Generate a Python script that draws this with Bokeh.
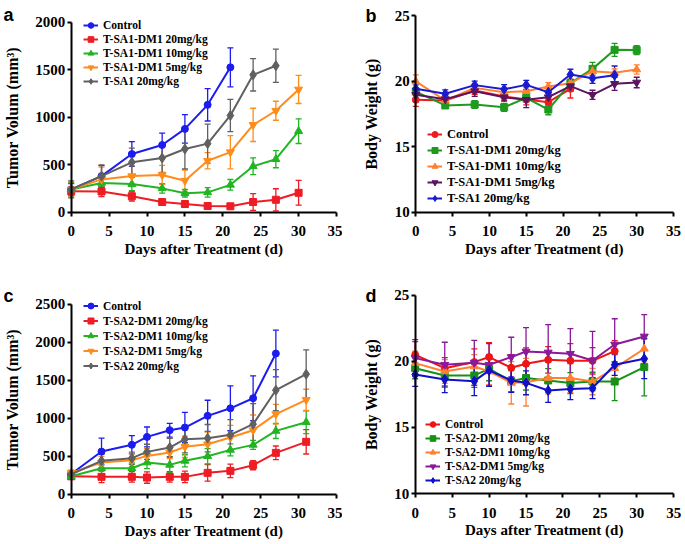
from bokeh.plotting import figure
from bokeh.models import (ColumnDataSource, Whisker, TeeHead, Legend, LegendItem,
                          Range1d, FixedTicker, Label, LinearAxis)
from bokeh.layouts import column, row
from bokeh.embed import file_html
from bokeh.resources import INLINE

# ---------------- data ----------------
days_a = [0, 4, 8, 12, 15, 18, 21, 24, 27, 30]
a_names = ["Control", "T-SA1-DM1 20mg/kg", "T-SA1-DM1 10mg/kg", "T-SA1-DM1 5mg/kg", "T-SA1 20mg/kg"]
a_control = [240, 380, 612, 707, 877, 1130, 1525]
a_control_err = [60, 110, 130, 125, 150, 170, 205]
a_dm1_20 = [220, 218, 168, 107, 86, 65, 62, 107, 131, 204]
a_dm1_20_err = [40, 55, 50, 22, 28, 20, 25, 88, 116, 130]
a_dm1_10 = [240, 308, 296, 251, 200, 209, 288, 484, 558, 853]
a_dm1_10_err = [70, 40, 70, 50, 40, 50, 56, 88, 90, 130]
a_dm1_5 = [240, 345, 380, 392, 332, 542, 632, 919, 1068, 1292]
a_dm1_5_err = [80, 130, 110, 100, 110, 85, 175, 175, 100, 148]
a_sa1 = [240, 379, 525, 570, 665, 722, 1018, 1446, 1542]
a_sa1_err = [90, 120, 150, 150, 210, 205, 170, 170, 175]

days_b = [0, 4, 8, 12, 15, 18, 21, 24, 27, 30]
b_names = ["Control", "T-SA1-DM1 20mg/kg", "T-SA1-DM1 10mg/kg", "T-SA1-DM1 5mg/kg", "T-SA1 20mg/kg"]
b_control = [18.57, 18.52, 19.28, 18.82, 18.59, 18.39, 19.41]
b_control_err = [0.5, 0.3, 0.3, 0.3, 0.4, 0.3, 0.7]
b_dm1_20 = [19.2, 18.14, 18.21, 18.0, 18.72, 17.83, 19.84, 20.93, 22.38, 22.36]
b_dm1_20_err = [0.3, 0.2, 0.3, 0.3, 0.3, 0.4, 0.3, 0.5, 0.5, 0.35]
b_dm1_10 = [19.97, 18.52, 19.48, 19.15, 19.23, 19.58, 19.84, 20.75, 20.63, 20.88]
b_dm1_10_err = [0.5, 0.3, 0.3, 0.3, 0.3, 0.3, 0.3, 0.3, 0.3, 0.35]
b_dm1_5 = [18.95, 18.62, 19.23, 18.77, 18.57, 18.77, 19.61, 18.95, 19.79, 19.89]
b_dm1_5_err = [0.3, 0.3, 0.4, 0.3, 0.6, 0.3, 0.4, 0.35, 0.5, 0.4]
b_sa1 = [19.41, 19.03, 19.69, 19.38, 19.71, 19.15, 20.5, 20.22, 20.45]
b_sa1_err = [0.3, 0.3, 0.3, 0.35, 0.35, 0.35, 0.4, 0.4, 0.7]

days_c = [0, 4, 8, 10, 13, 15, 18, 21, 24, 27, 31]
c_names = ["Control", "T-SA2-DM1 20mg/kg", "T-SA2-DM1 10mg/kg", "T-SA2-DM1 5mg/kg", "T-SA2 20mg/kg"]
c_control = [265, 561, 650, 754, 842, 877, 1031, 1130, 1263, 1851]
c_control_err = [40, 176, 120, 130, 90, 200, 205, 295, 295, 307]
c_dm1_20 = [235, 228, 228, 219, 228, 228, 281, 307, 382, 544, 689]
c_dm1_20_err = [30, 75, 70, 75, 70, 75, 110, 90, 60, 90, 160]
c_dm1_10 = [235, 342, 342, 417, 386, 439, 500, 583, 649, 833, 947]
c_dm1_10_err = [40, 100, 70, 80, 100, 80, 100, 80, 60, 100, 150]
c_dm1_5 = [280, 417, 447, 504, 548, 623, 658, 746, 842, 1053, 1241]
c_dm1_5_err = [40, 80, 80, 100, 80, 140, 160, 160, 200, 130, 140]
c_sa2 = [263, 439, 474, 557, 614, 724, 737, 781, 921, 1368, 1579]
c_sa2_err = [40, 90, 80, 100, 120, 180, 180, 200, 270, 270, 320]

days_d = [0, 4, 8, 10, 13, 15, 18, 21, 24, 27, 31]
d_names = ["Control", "T-SA2-DM1 20mg/kg", "T-SA2-DM1 10mg/kg", "T-SA2-DM1 5mg/kg", "T-SA2 20mg/kg"]
d_control = [20.49, 19.48, 19.94, 20.32, 19.51, 19.81, 20.11, 20.04, 20.04, 20.77]
d_control_err = [1.0, 0.8, 1.0, 1.1, 1.0, 1.2, 1.0, 1.3, 1.0, 0.8]
d_dm1_20 = [19.48, 18.93, 18.93, 19.43, 18.5, 18.73, 18.55, 18.35, 18.47, 18.47, 19.56]
d_dm1_20_err = [0.8, 0.8, 0.9, 0.9, 0.8, 0.9, 0.9, 0.8, 0.7, 1.45, 2.17]
d_dm1_10 = [19.86, 19.23, 19.61, 19.23, 18.37, 18.42, 18.73, 18.73, 18.47, 19.48, 20.95]
d_dm1_10_err = [0.9, 0.9, 0.9, 1.0, 1.6, 1.8, 1.2, 1.1, 1.0, 1.0, 1.0]
d_dm1_5 = [20.24, 19.74, 19.89, 19.74, 20.32, 20.74, 20.67, 20.57, 20.06, 21.27, 21.88]
d_dm1_5_err = [1.4, 1.7, 1.7, 1.6, 1.5, 1.8, 2.1, 1.9, 2.2, 1.95, 1.65]
d_sa2 = [19.0, 18.63, 18.5, 19.31, 18.55, 18.37, 17.79, 17.9, 17.97, 19.74, 20.19]
d_sa2_err = [0.9, 1.0, 1.1, 1.2, 0.9, 0.9, 0.9, 0.8, 0.8, 0.8, 1.5]

x_ticks = [0, 5, 10, 15, 20, 25, 30, 35]
a_yticks = [0, 500, 1000, 1500, 2000]
c_yticks = [0, 500, 1000, 1500, 2000, 2500]
bw_yticks = [10, 15, 20, 25]

SERIF = "Liberation Serif"


class Panel:
    """Figure whose frame fills the whole canvas; axes are drawn at fixed data positions."""

    def __init__(self, fx, fy, w, h, ax0, ax35, ylo, ylo_px, yhi, yhi_px, yticks, ylabel):
        self.fx, self.fy, self.w, self.h = fx, fy, w, h
        self.sx = (ax35 - ax0) / 35.0
        self.sy = (ylo_px - yhi_px) / float(yhi - ylo)
        self.ax0, self.ylo, self.ylo_px = ax0, ylo, ylo_px
        p = figure(width=w, height=h, output_backend="svg", toolbar_location=None,
                   x_range=Range1d(self.xd(fx), self.xd(fx + w)),
                   y_range=Range1d(self.yd(fy + h), self.yd(fy)),
                   x_axis_location=None, y_axis_location=None,
                   min_border=0)
        p.outline_line_color = None
        p.grid.visible = False
        xa = LinearAxis(fixed_location=ylo, bounds=(0, 35), ticker=FixedTicker(ticks=x_ticks),
                        axis_label="Days after Treatment (d)")
        ya = LinearAxis(fixed_location=0, bounds=(ylo, yhi), ticker=FixedTicker(ticks=yticks),
                        axis_label=ylabel)
        for ax in (xa, ya):
            ax.axis_line_width = 2
            ax.axis_line_color = "black"
            ax.major_tick_line_width = 2
            ax.major_tick_in = 0
            ax.major_tick_out = 4
            ax.minor_tick_line_color = None
            ax.major_label_text_font = SERIF
            ax.major_label_text_font_style = "bold"
            ax.major_label_text_font_size = "15px"
            ax.major_label_text_color = "black"
            ax.axis_label_text_font = SERIF
            ax.axis_label_text_font_style = "bold"
            ax.axis_label_text_color = "black"
        xa.axis_label_text_font_size = "15px"
        ya.axis_label_text_font_size = "16px"
        xa.major_label_standoff = 10
        xa.axis_label_standoff = 1
        ya.major_label_standoff = 2
        ya.axis_label_standoff = 12
        p.add_layout(xa, "below")
        p.add_layout(ya, "left")
        self.p = p

    def xd(self, px):
        return (px - self.ax0) / self.sx

    def yd(self, py):
        return self.ylo + (self.ylo_px - py) / self.sy


def add_series(p, days, vals, errs, color, marker, msize):
    xs = days[:len(vals)]
    src = ColumnDataSource(dict(x=xs, y=vals,
                                lo=[v - e for v, e in zip(vals, errs)],
                                hi=[v + e for v, e in zip(vals, errs)]))
    w = Whisker(base="x", upper="hi", lower="lo", source=src, dimension="height",
                line_color=color, line_width=1.3,
                upper_head=TeeHead(size=6, line_color=color, line_width=1.3),
                lower_head=TeeHead(size=6, line_color=color, line_width=1.3))
    p.add_layout(w)
    ln = p.line("x", "y", source=src, line_color=color, line_width=2)
    sc = p.scatter("x", "y", source=src, marker=marker, size=msize,
                   fill_color=color, line_color=color)
    return [ln, sc]


def add_legend(pn, items, glyph_left_px, bottom_px, row_h, font_size):
    loc = (int(round(glyph_left_px - pn.fx)), int(round(pn.fy + pn.h - bottom_px)))
    leg = Legend(items=items, location=loc, padding=0, margin=0, spacing=0,
                 glyph_width=15, glyph_height=row_h, label_height=row_h,
                 label_standoff=5, border_line_color=None, background_fill_alpha=0,
                 label_text_font=SERIF, label_text_font_style="bold",
                 label_text_font_size=font_size, label_text_color="black")
    pn.p.add_layout(leg)


def add_letter(pn, txt, left_px, base_px):
    pn.p.add_layout(Label(x=pn.xd(left_px), y=pn.yd(base_px), text=txt,
                          text_font="Liberation Sans", text_font_style="bold",
                          text_font_size="18px", text_color="black",
                          text_baseline="alphabetic"))


# ---------------- panel a ----------------
A = Panel(0, 0, 342, 272, 70.7, 336.0, 0, 211.7, 2000, 21.7, a_yticks,
          "Tumor Volum (mm\u00b3)")
a_cols = ["#1c1cf0", "#ee1c24", "#22b422", "#ff8c1a", "#606060"]
a_marks = ["circle", "square", "triangle", "inverted_triangle", "diamond"]
a_sizes = [7, 7, 8, 8, 10]
a_vals = [(a_control, a_control_err), (a_dm1_20, a_dm1_20_err), (a_dm1_10, a_dm1_10_err),
          (a_dm1_5, a_dm1_5_err), (a_sa1, a_sa1_err)]
items = []
for name, (v, e), c, m, s in zip(a_names, a_vals, a_cols, a_marks, a_sizes):
    items.append(LegendItem(label=name, renderers=add_series(A.p, days_a, v, e, c, m, s)))
add_legend(A, items, 83, 88, 14, "11.5px")
add_letter(A, "a", 3, 14)

# ---------------- panel b ----------------
B = Panel(342, 0, 343, 272, 415.3, 673.0, 10, 211.7, 25, 15.0, bw_yticks,
          "Body Weight (g)")
b_cols = ["#f01c1c", "#1e9a1e", "#ff8030", "#5a1460", "#1a1ad0"]
b_marks = ["circle", "square", "triangle", "inverted_triangle", "diamond"]
b_sizes = [7, 7, 8, 8, 10]
b_vals = [(b_control, b_control_err), (b_dm1_20, b_dm1_20_err), (b_dm1_10, b_dm1_10_err),
          (b_dm1_5, b_dm1_5_err), (b_sa1, b_sa1_err)]
items = []
for name, (v, e), c, m, s in zip(b_names, b_vals, b_cols, b_marks, b_sizes):
    items.append(LegendItem(label=name, renderers=add_series(B.p, days_b, v, e, c, m, s)))
add_legend(B, items, 427, 206, 16, "12.5px")
add_letter(B, "b", 365, 15)

# ---------------- panel c ----------------
C = Panel(0, 272, 342, 272, 70.7, 336.0, 0, 493.7, 2500, 303.7, c_yticks,
          "Tumor Volum (mm\u00b3)")
c_vals = [(c_control, c_control_err), (c_dm1_20, c_dm1_20_err), (c_dm1_10, c_dm1_10_err),
          (c_dm1_5, c_dm1_5_err), (c_sa2, c_sa2_err)]
items = []
for name, (v, e), c, m, s in zip(c_names, c_vals, a_cols, a_marks, a_sizes):
    items.append(LegendItem(label=name, renderers=add_series(C.p, days_c, v, e, c, m, s)))
add_legend(C, items, 83, 373, 15, "11.5px")
add_letter(C, "c", 3, 295)

# ---------------- panel d ----------------
D = Panel(342, 272, 343, 272, 414.7, 673.3, 10, 493.0, 25, 294.7, bw_yticks,
          "Body Weight (g)")
d_cols = ["#f01414", "#169016", "#ff8030", "#8a1a9a", "#1010c8"]
d_vals = [(d_control, d_control_err), (d_dm1_20, d_dm1_20_err), (d_dm1_10, d_dm1_10_err),
          (d_dm1_5, d_dm1_5_err), (d_sa2, d_sa2_err)]
items = []
for name, (v, e), c, m, s in zip(d_names, d_vals, d_cols, b_marks, b_sizes):
    items.append(LegendItem(label=name, renderers=add_series(D.p, days_d, v, e, c, m, s)))
add_legend(D, items, 425, 487, 14, "11.5px")
add_letter(D, "d", 365, 295)

layout = column(row(A.p, B.p), row(C.p, D.p))
open("out.html", "w").write(file_html(layout, INLINE))
